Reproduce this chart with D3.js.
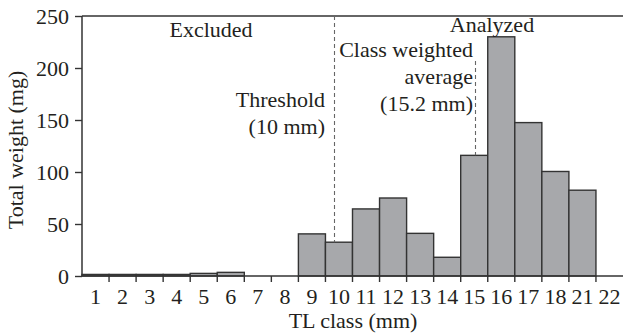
<!DOCTYPE html>
<html><head><meta charset="utf-8">
<script src="https://cdn.jsdelivr.net/npm/d3@7"></script>
<style>body{margin:0;background:#fff}</style>
</head><body><svg id="c" width="623" height="336"></svg>
<script>
const categories = ["1","2","3","4","5","6","7","8","9","10","11","12","13","14","15","16","17","18","21","22"];
const weights = [1.5,1.5,1.5,1.5,2.5,3.5,0,0,40.5,32.5,64.5,75,41,18,116,230,147.5,100.5,82.5,0];
const yTicks = [0,50,100,150,200,250];
const markers = [
  {cat:"10", frac:0.33, name:"threshold"},
  {cat:"15", frac:0.54, name:"average"}
];

const FONT = "'Liberation Serif', 'Times New Roman', serif";
const FS = 22;
const svg = d3.select("#c");
const m = {l:82, r:0, t:16, b:60};
const W = 623, H = 336;
const x = d3.scaleBand().domain(categories).range([m.l, W - m.r]).padding(0);
const y = d3.scaleLinear().domain([0,250]).range([276, m.t]);
const ink = "#333";

svg.append("line").attr("x1",m.l).attr("x2",W).attr("y1",y(250)).attr("y2",y(250))
  .attr("stroke",ink).attr("stroke-width",1.4);

svg.append("g").selectAll("rect").data(categories.map((c,i)=>({c,v:weights[i]})).filter(d=>d.v>0))
  .join("rect")
  .attr("x",d=>x(d.c)).attr("width",x.bandwidth())
  .attr("y",d=>y(d.v)).attr("height",d=>y(0)-y(d.v))
  .attr("fill","#a7a8ab").attr("stroke",ink).attr("stroke-width",1.4);

const valOf = c => weights[categories.indexOf(c)];
markers.forEach((mk,i)=>{
  const px = Math.round(x(mk.cat) + mk.frac*x.bandwidth()) + 0.5;
  svg.append("line").attr("x1",px).attr("x2",px)
    .attr("y1", i===0 ? y(250) : 61).attr("y2", y(valOf(mk.cat)))
    .attr("stroke","#666").attr("stroke-width",1.1).attr("stroke-dasharray","4,3");
});

const yAxis = svg.append("g").attr("transform",`translate(${m.l},0)`)
  .call(d3.axisLeft(y).tickValues(yTicks).tickSize(7).tickPadding(6));
const xAxis = svg.append("g").attr("transform",`translate(0,${y(0)})`)
  .call(d3.axisBottom(x).tickSize(0).tickPadding(12));
xAxis.selectAll(".bt").data(categories.slice(1)).join("line")
  .attr("x1",d=>x(d)).attr("x2",d=>x(d)).attr("y1",0).attr("y2",6)
  .attr("stroke",ink).attr("stroke-width",1.4);
[yAxis,xAxis].forEach(g=>{
  g.attr("font-family",null).attr("font-size",null);
  g.select(".domain").attr("stroke",ink).attr("stroke-width",1.5);
  g.selectAll(".tick line").attr("stroke",ink).attr("stroke-width",1.4);
  g.selectAll(".tick text").style("font-family",FONT).style("font-size",FS+"px").attr("fill","#231f20");
});
xAxis.select(".domain").attr("d",`M${m.l},0H${W}`);
yAxis.select(".domain").attr("d",`M0,${y(0)}V${y(250)}`);

const txt = (t,xx,yy,anchor,tr) => {
  const e = svg.append("text").attr("text-anchor",anchor)
    .style("font-family",FONT).style("font-size",FS+"px").attr("fill","#231f20").text(t);
  if (tr) e.attr("transform",tr); else e.attr("x",xx).attr("y",yy);
  return e;
};
txt("TL class (mm)",353,328,"middle");
txt("Total weight (mg)",0,0,"middle","translate(23,150) rotate(-90)");
txt("Excluded",211,37,"middle");
txt("Analyzed",492,32,"middle");
txt("Threshold",325,107,"end");
txt("(10 mm)",325,134,"end");
txt("Class weighted",473,57,"end");
txt("average",473,84,"end");
txt("(15.2 mm)",473,111,"end");
</script></body></html>
